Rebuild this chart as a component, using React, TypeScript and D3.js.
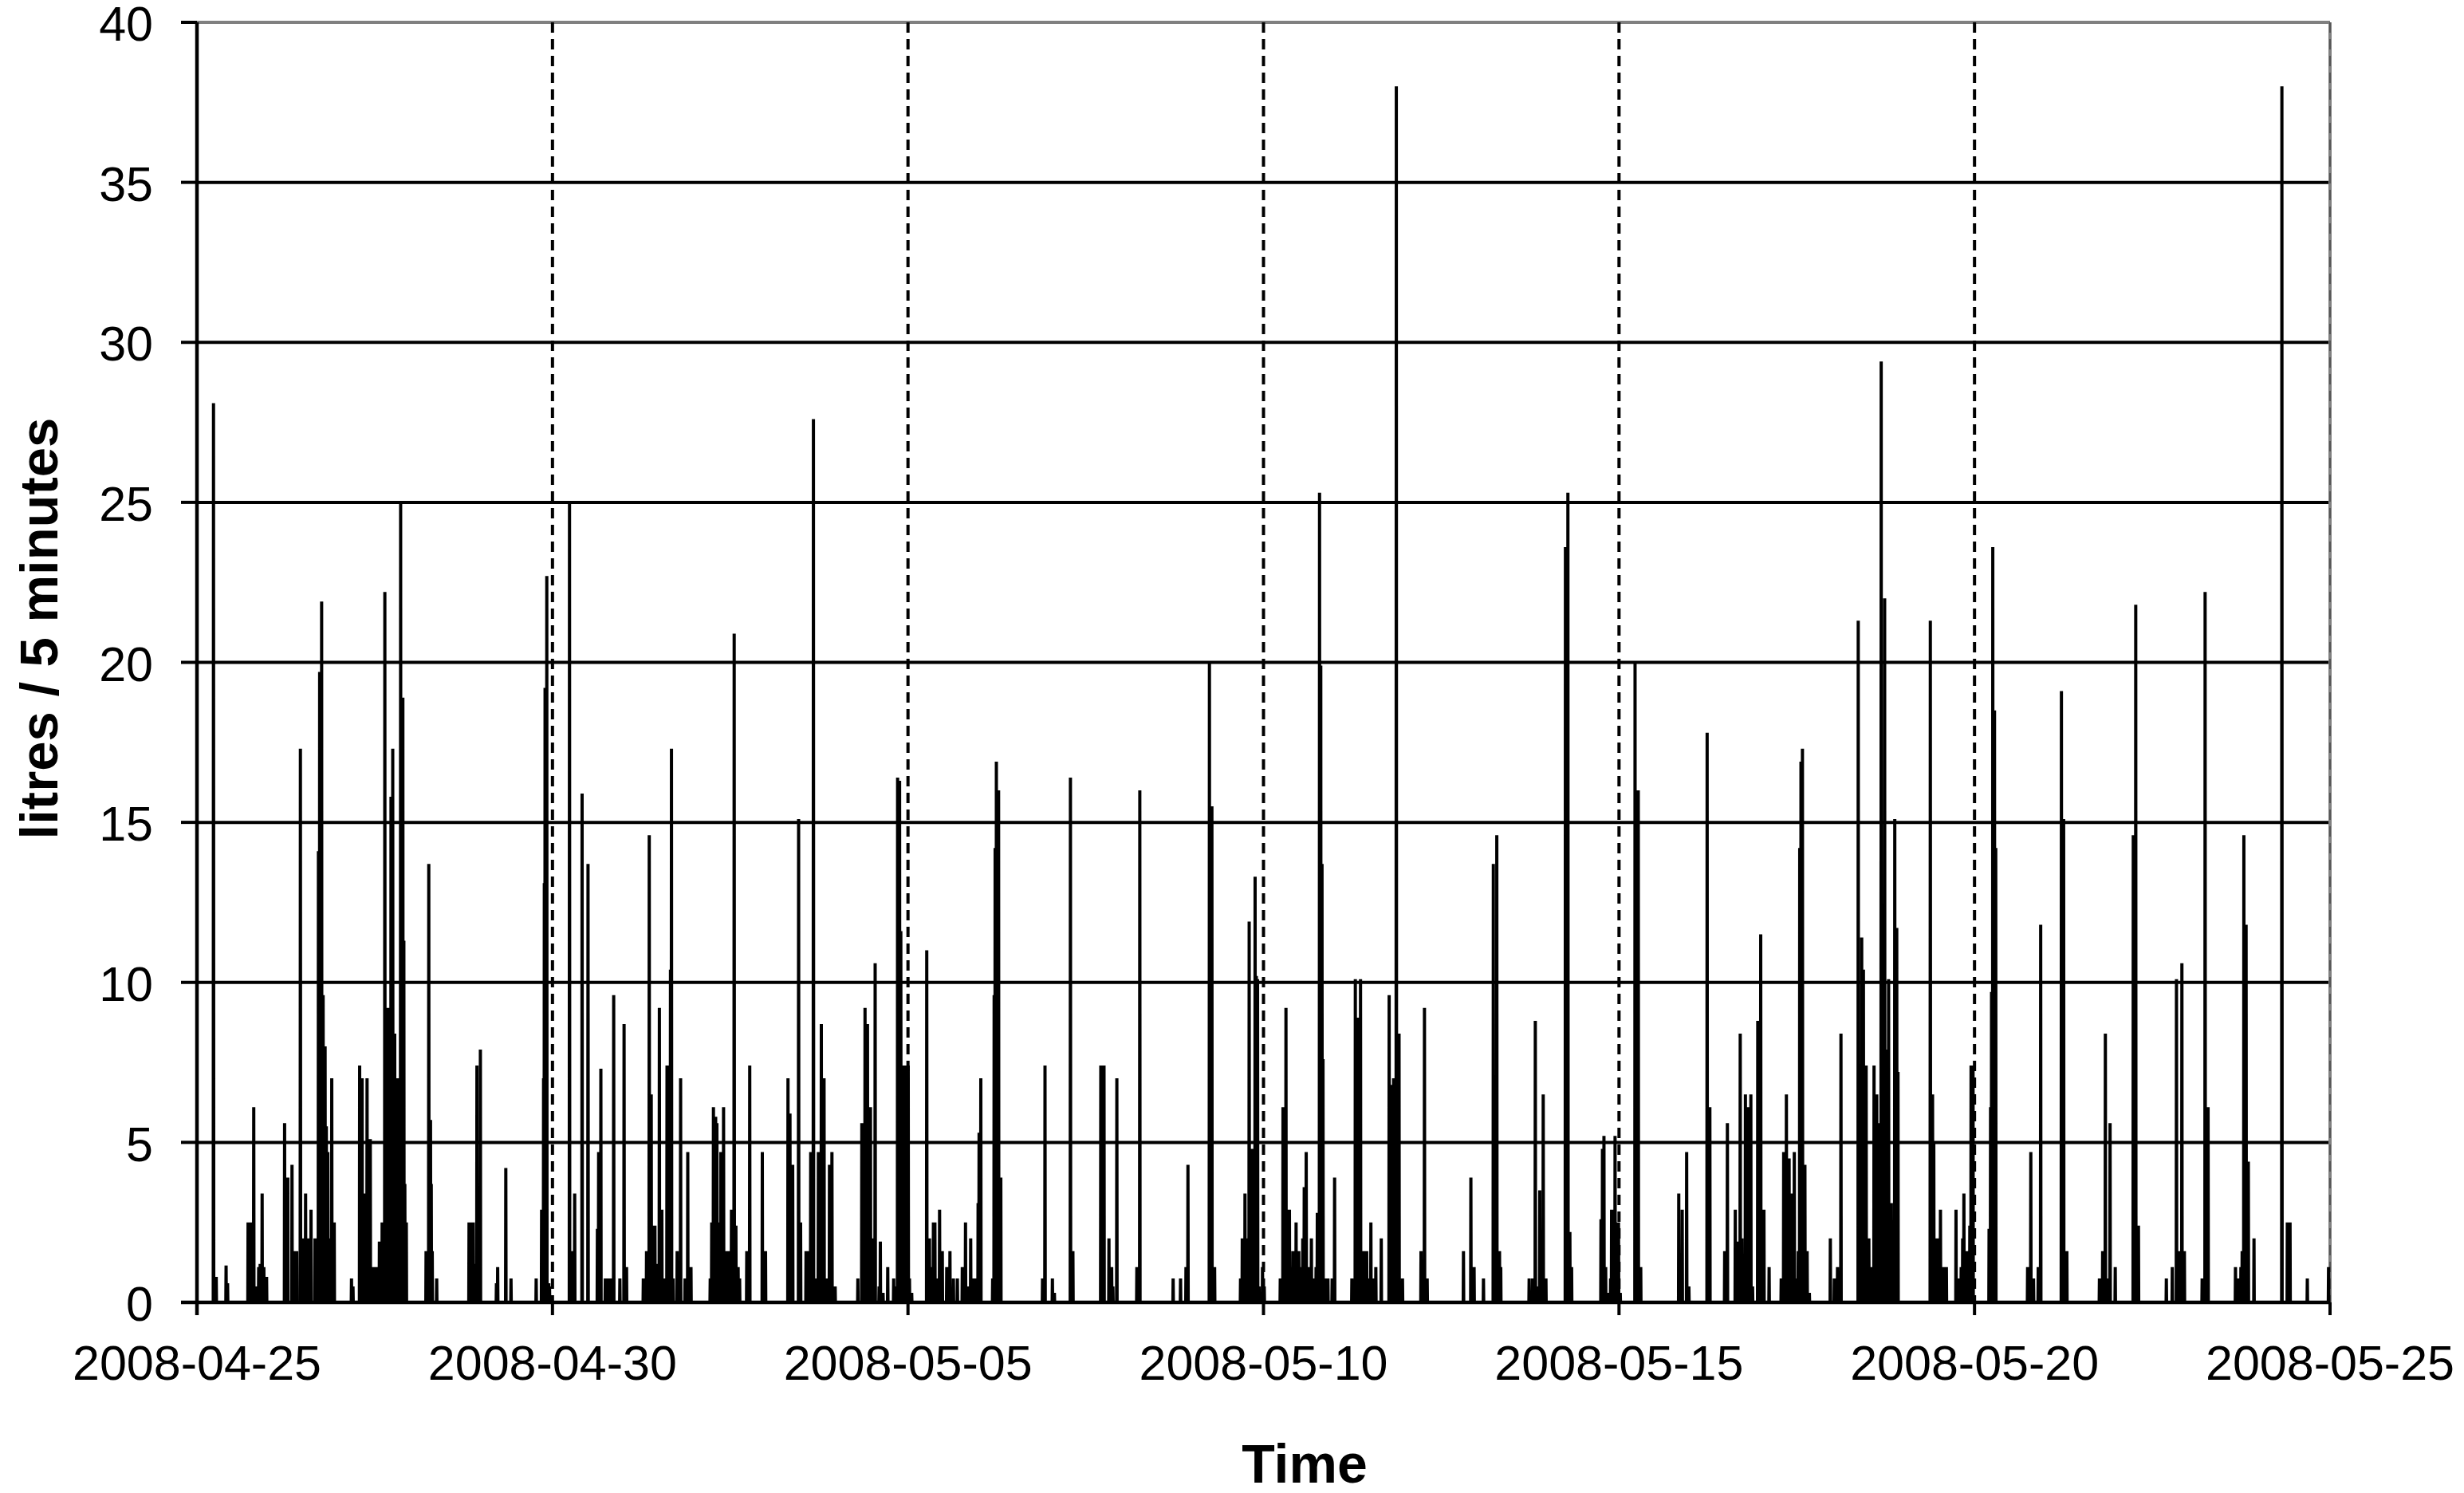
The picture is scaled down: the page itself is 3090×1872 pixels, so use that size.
import React from 'react';
import * as d3 from 'd3';

// water use events: [hours since 2008-04-25 00:00, litres in that 5-minute slot]
const usage: [number, number][] = [
  [5.56, 28.1], [6.46, 0.8], [9.87, 1.15], [10.31, 0.6],
  [17.22, 2.5], [17.94, 2.5], [18.57, 2.5], [19.19, 6.1], [19.73, 0.5],
  [20.81, 1.1], [21.35, 1.2], [21.97, 3.4], [22.6, 1.1], [23.5, 0.8],
  [29.6, 5.6], [30.68, 3.9], [32.11, 4.3], [32.92, 1.6], [33.63, 1.6],
  [34.89, 17.3], [35.43, 2.0], [36.06, 2.0], [36.68, 3.4], [37.58, 2.0], [38.48, 2.9],
  [39.82, 2.0], [40.54, 2.0], [40.99, 14.1], [41.44, 19.7], [42.06, 21.9], [42.6, 9.6],
  [43.23, 8.0], [43.68, 5.5], [44.13, 4.7], [44.58, 2.0], [45.47, 7.0], [46.37, 2.5],
  [52.2, 0.75], [52.65, 0.5],
  [54.89, 7.4], [55.79, 7.0], [56.24, 3.4], [56.68, 3.4], [57.4, 7.0], [58.48, 5.1],
  [59.38, 1.1], [60.09, 1.1], [60.72, 1.1], [61.62, 1.9], [62.51, 2.5],
  [63.41, 22.2], [64.31, 9.2], [64.94, 9.2], [65.47, 15.8], [66.1, 17.3], [66.73, 8.4],
  [67.45, 7.0], [68.16, 7.0], [68.79, 25.0], [69.51, 18.9], [69.87, 11.3], [70.14, 3.7], [70.68, 2.5],
  [77.31, 1.6], [78.21, 13.7], [78.84, 5.7], [79.11, 3.7], [79.38, 1.6], [80.9, 0.75],
  [91.84, 2.5], [92.56, 2.5], [93.28, 2.5], [93.91, 1.2], [94.53, 7.4], [95.7, 7.9],
  [101.08, 0.6], [101.53, 1.1], [104.22, 4.2], [106.01, 0.75], [114.53, 0.75],
  [116.33, 2.9], [116.96, 7.0], [117.22, 13.1], [117.49, 19.2], [118.12, 22.7], [118.75, 0.6],
  [119.01, 0.5],
  [125.74, 25.0], [126.64, 1.6], [127.53, 3.4], [130.04, 15.9], [132.02, 13.7],
  [135.16, 2.3], [135.6, 4.7], [136.32, 7.3], [137.85, 0.75], [138.74, 0.75], [139.64, 0.75],
  [140.63, 9.6], [142.78, 0.75], [144.13, 8.7], [145.02, 1.1],
  [150.67, 0.75], [151.75, 1.6], [152.65, 14.6], [153.36, 6.5], [153.99, 2.4], [154.62, 2.4],
  [155.34, 1.2], [156.05, 9.2], [156.95, 2.9], [157.85, 0.75], [158.66, 7.4], [159.37, 7.4],
  [159.82, 10.4], [160.18, 17.3], [160.72, 0.75],
  [162.06, 1.6], [163.23, 7.0], [164.75, 0.75], [165.65, 4.7], [166.73, 1.1],
  [173.27, 0.75], [173.72, 2.5], [174.35, 6.1], [175.07, 5.8], [175.52, 5.6], [175.96, 2.5],
  [176.86, 4.7], [177.76, 6.1], [178.66, 1.6], [179.55, 1.6], [180.45, 2.9], [181.35, 20.9],
  [181.88, 2.4], [182.69, 1.1], [183.14, 0.75],
  [185.56, 1.6], [186.55, 7.4], [190.85, 4.7], [191.93, 1.6],
  [199.46, 7.0], [200.18, 5.9], [200.63, 3.7], [201.08, 4.3],
  [203.05, 15.1], [203.77, 2.5], [205.56, 1.6], [206.28, 1.6], [207.18, 4.7], [208.07, 27.6],
  [209.15, 0.75], [209.78, 4.7], [210.77, 8.7], [211.66, 7.0], [212.56, 0.75], [213.46, 4.3],
  [214.35, 4.7], [215.43, 0.5],
  [223.05, 0.75], [224.4, 5.6], [225.48, 9.2], [226.37, 8.7], [227.36, 6.1], [227.99, 2.0],
  [228.88, 10.6], [230.23, 0.5], [230.68, 1.9], [231.57, 0.3], [233.19, 1.1], [235.16, 0.75],
  [236.06, 0.5],
  [236.5, 16.4], [237.13, 16.3], [237.58, 11.6], [238.3, 7.4], [238.93, 7.4], [239.47, 7.4],
  [240.09, 7.4], [240.54, 0.75], [241.26, 0.3],
  [246.37, 11.0], [247.27, 2.0], [247.72, 1.1], [248.61, 2.5], [249.06, 2.5], [249.96, 0.75],
  [250.68, 2.9], [251.57, 1.6], [253.1, 1.1], [254.17, 1.6], [255.34, 0.75], [256.69, 0.75],
  [258.3, 1.1], [259.38, 2.5], [260.27, 0.5], [261.17, 2.0], [262.07, 0.75], [262.96, 0.75],
  [263.68, 3.1], [264.04, 5.3], [264.58, 7.0],
  [268.61, 0.75], [269.06, 9.6], [269.42, 14.2], [269.87, 16.9], [270.59, 16.0], [271.3, 3.9],
  [285.39, 0.75], [286.28, 7.4], [288.79, 0.75], [289.42, 0.3],
  [294.8, 16.4], [295.7, 1.6],
  [305.12, 7.4], [306.19, 7.4], [307.81, 2.0], [308.71, 1.1], [309.15, 0.5], [310.5, 7.0],
  [317.23, 1.1], [318.21, 16.0],
  [329.51, 0.75], [332.03, 0.75], [333.82, 1.1], [334.54, 4.3],
  [341.71, 20.0], [342.61, 15.5], [343.51, 1.1],
  [352.21, 0.75], [352.83, 2.0], [353.73, 3.4], [354.45, 2.0],
  [355.15, 11.9], [355.78, 4.8], [356.41, 4.8], [357.13, 13.3], [357.58, 10.2], [358.02, 10.1],
  [358.47, 0.5], [359.64, 1.1], [360.27, 0.5],
  [365.65, 0.75], [366.55, 6.1], [367.62, 9.2], [368.34, 2.9], [368.79, 2.9], [369.5, 1.1],
  [369.95, 1.6], [371.03, 2.5], [371.93, 1.6], [372.55, 1.1], [373.27, 2.0], [373.72, 3.6],
  [374.44, 4.7], [375.07, 1.1], [376.14, 2.0], [377.04, 0.75], [377.76, 1.1], [378.2, 2.8],
  [378.92, 25.3], [379.37, 19.9], [379.73, 13.7], [380.09, 7.6], [380.9, 0.75], [381.79, 0.75],
  [383.14, 0.75], [384.03, 3.9],
  [389.86, 0.75], [391.03, 10.1], [391.66, 5.6], [392.11, 8.9], [392.73, 10.1], [393.45, 1.6],
  [394.35, 1.6], [394.8, 1.6], [395.51, 0.75], [396.23, 2.5], [397.04, 0.75], [397.94, 1.1],
  [399.73, 2.0],
  [402.42, 9.6], [402.87, 6.8], [403.32, 3.7], [403.95, 7.0], [404.84, 38.0], [405.74, 8.4],
  [406.91, 0.75],
  [413.18, 1.6], [414.35, 9.2], [415.25, 0.75],
  [427.53, 1.6], [429.96, 3.9], [431.12, 1.1], [434.26, 0.75],
  [437.58, 13.7], [438.75, 14.6], [439.64, 1.6], [440.09, 1.1],
  [449.69, 0.75], [450.85, 0.75], [451.75, 8.8], [452.83, 0.5], [453.27, 3.5], [454.44, 6.5],
  [455.34, 0.75],
  [461.89, 23.6], [462.78, 25.3], [463.41, 2.2], [464.04, 1.1],
  [473.9, 2.6], [474.44, 4.8], [474.89, 5.2], [475.52, 1.1], [476.41, 0.3], [477.13, 0.75],
  [477.49, 2.9], [478.21, 2.9], [478.66, 5.2], [479.28, 2.5], [479.82, 2.5], [480.45, 0.3],
  [485.38, 20.0], [486.46, 16.0], [487.36, 1.1],
  [500.18, 3.4], [501.35, 2.9], [502.87, 4.7], [503.59, 0.5],
  [509.78, 17.8], [510.68, 6.1],
  [515.7, 1.6], [516.6, 5.6], [519.29, 2.9], [519.91, 1.9], [520.9, 8.4], [521.53, 2.0],
  [522.69, 6.5], [523.5, 6.1], [524.49, 6.5], [525.12, 0.5],
  [526.82, 8.8], [527.81, 11.5], [528.88, 2.9], [530.68, 1.1],
  [534.71, 0.75], [535.61, 4.7], [536.51, 6.5], [537.4, 4.5], [538.12, 3.4], [539.2, 4.7],
  [539.91, 0.75], [540.54, 1.6], [540.99, 14.2], [541.44, 16.9], [541.89, 17.3], [542.79, 4.3],
  [543.5, 1.6], [544.22, 0.3],
  [551.3, 2.0], [552.65, 0.75], [553.73, 1.1], [554.89, 8.4],
  [560.72, 21.3], [561.89, 11.4], [562.52, 10.4], [563.41, 7.4], [564.31, 2.0], [565.21, 1.1],
  [566.1, 7.4], [567.0, 6.5], [567.72, 5.6], [568.53, 29.4], [569.69, 22.0], [570.14, 6.7],
  [570.59, 7.9], [571.04, 10.1], [571.93, 3.1], [573.1, 15.1], [573.73, 11.7], [574.18, 7.2],
  [585.12, 21.3], [585.83, 6.5], [586.28, 5.0], [586.91, 2.0], [587.63, 2.0], [588.53, 2.9],
  [589.42, 1.1], [590.5, 1.1],
  [593.73, 2.9], [594.63, 0.75], [595.52, 1.1], [595.97, 2.0], [596.42, 3.4], [597.32, 1.6],
  [597.94, 1.4], [598.39, 2.4], [598.84, 7.4], [599.47, 7.4],
  [604.94, 2.3], [605.39, 6.1], [605.75, 9.7], [606.2, 23.6], [606.73, 18.5], [607.18, 14.2],
  [617.94, 1.1], [619.02, 4.7], [619.92, 0.75], [621.53, 1.1], [622.34, 11.8],
  [629.34, 19.1], [630.05, 15.1], [631.13, 1.6],
  [642.16, 0.75], [643.24, 1.6], [644.13, 8.4], [644.85, 0.75], [645.75, 5.6], [647.54, 1.1],
  [653.55, 14.6], [654.45, 21.8], [655.35, 2.4],
  [664.74, 0.75], [666.74, 1.1], [668.17, 10.1], [669.07, 1.6], [669.96, 10.6], [670.86, 1.6],
  [676.87, 0.75], [677.86, 22.2], [678.84, 6.1],
  [688.08, 1.1], [688.98, 0.75], [689.88, 1.1], [690.32, 1.6], [690.95, 14.6], [691.67, 11.8],
  [692.39, 4.4], [694.36, 2.0],
  [703.78, 38.0], [705.57, 2.5], [706.47, 2.5], [712.3, 0.75], [719.5, 1.1],
];

const xTickLabels = ['2008-04-25', '2008-04-30', '2008-05-05', '2008-05-10', '2008-05-15', '2008-05-20', '2008-05-25'];
const yTickValues = [0, 5, 10, 15, 20, 25, 30, 35, 40];

const W = 3090;
const H = 1872;
const margin = { left: 247, right: W - 2922, top: 28, bottom: H - 1633 };
const FONT = '"Liberation Sans", Arial, Helvetica, sans-serif';

export default function App() {
  const parse = d3.utcParse('%Y-%m-%d');
  const start = parse(xTickLabels[0]) as Date;
  const end = parse(xTickLabels[xTickLabels.length - 1]) as Date;
  const ticks = xTickLabels.map((s) => parse(s) as Date);

  const x = d3.scaleUtc().domain([start, end]).range([margin.left, W - margin.right]);
  const y = d3.scaleLinear().domain([0, 40]).range([H - margin.bottom, margin.top]);

  // 5-minute series, zero where nothing was used
  const stepMs = 5 * 60 * 1000;
  const n = Math.round((+end - +start) / stepMs);
  const series = new Array(n + 1).fill(0);
  usage.forEach(([h, v]) => {
    const i = Math.round((h * 3600 * 1000) / stepMs);
    series[i] = Math.max(series[i], v);
  });

  const line = d3.line<number>()
    .x((_, i) => x(new Date(+start + i * stepMs)))
    .y((d) => y(d));

  const x0 = x.range()[0];
  const x1 = x.range()[1];
  const y0 = y(0);
  const yTop = y(40);

  return (
    <svg width={W} height={H} style={{ position: 'absolute', left: 0, top: 0, background: '#fff' }}>
      {/* horizontal gridlines */}
      {yTickValues.filter((v) => v > 0 && v < 40).map((v) => (
        <line key={v} x1={x0} x2={x1} y1={y(v)} y2={y(v)} stroke="#000" strokeWidth={4} />
      ))}
      <line x1={x0} x2={x1} y1={yTop} y2={yTop} stroke="#808080" strokeWidth={4} />
      <line x1={x1} x2={x1} y1={yTop} y2={y0} stroke="#808080" strokeWidth={4} />

      {/* vertical dashed lines at each labelled date */}
      {ticks.slice(1).map((t, i) => (
        <line key={i} x1={x(t)} x2={x(t)} y1={yTop} y2={y0}
          stroke={i === ticks.length - 2 ? '#555' : '#000'}
          strokeWidth={i === ticks.length - 2 ? 2 : 4} strokeDasharray="13,8" />
      ))}

      <path d={line(series) || ''} fill="none" stroke="#000" strokeWidth={4} strokeLinejoin="bevel" />

      {/* axes */}
      <line x1={x0} x2={x0} y1={yTop} y2={y0 + 16} stroke="#000" strokeWidth={4.5} />
      <line x1={x0 - 20} x2={x1} y1={y0} y2={y0} stroke="#000" strokeWidth={4.5} />
      {yTickValues.map((v) => (
        <g key={v}>
          <line x1={x0 - 20} x2={x0} y1={y(v)} y2={y(v)} stroke="#000" strokeWidth={4} />
          <text x={x0 - 55} y={y(v)} dy="0.38em" textAnchor="end" fontFamily={FONT} fontSize={61}>{v}</text>
        </g>
      ))}
      {ticks.map((t, i) => (
        <g key={i}>
          <line x1={x(t)} x2={x(t)} y1={y0} y2={y0 + 16} stroke="#000" strokeWidth={4} />
          <text x={x(t)} y={1730} textAnchor="middle" fontFamily={FONT} fontSize={61}>{xTickLabels[i]}</text>
        </g>
      ))}

      <text x={1636} y={1859} textAnchor="middle" fontFamily={FONT} fontSize={68} fontWeight="bold">Time</text>
      <text transform="translate(72,788) rotate(-90)" textAnchor="middle" fontFamily={FONT} fontSize={67} fontWeight="bold">litres / 5 minutes</text>
    </svg>
  );
}
